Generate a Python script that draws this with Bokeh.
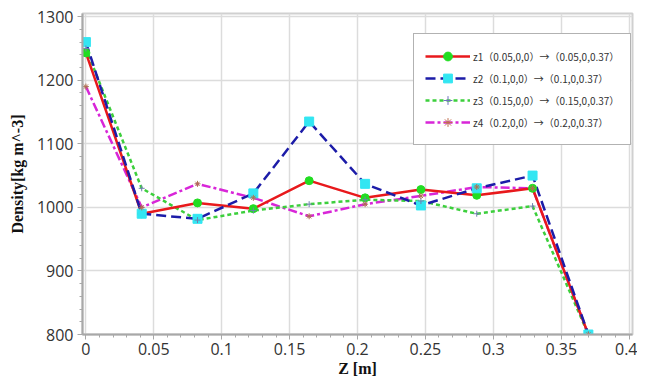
from bokeh.plotting import figure
from bokeh.models import (SingleIntervalTicker, Legend, LegendItem, ColumnDataSource, Range1d)
from bokeh.embed import file_html
from bokeh.resources import INLINE

# ---- data ----
z = [0.0, 0.0411, 0.0822, 0.1233, 0.1644, 0.2056, 0.2467, 0.2878, 0.3289, 0.37]
z1 = [1243, 990, 1007, 998, 1042, 1015, 1028, 1019, 1030, 800]
z2 = [1260, 990, 982, 1022, 1135, 1037, 1003, 1030, 1050, 800]
z3 = [1250, 1030, 980, 995, 1005, 1012, 1010, 990, 1002, 800]
z4 = [1190, 1000, 1037, 1015, 986, 1005, 1018, 1032, 1030, 800]
labels = ["z1（0.05,0,0）→（0.05,0,0.37）",
          "z2（0.1,0,0）→（0.1,0,0.37）",
          "z3（0.15,0,0）→（0.15,0,0.37）",
          "z4（0.2,0,0）→（0.2,0,0.37）"]
x_ticks = [0.0, 0.05, 0.1, 0.15, 0.2, 0.25, 0.3, 0.35, 0.4]
x_tick_labels = ["0", "0.05", "0.1", "0.15", "0.2", "0.25", "0.3", "0.35", "0.4"]

p = figure(width=637, height=382, output_backend="svg", toolbar_location=None,
           x_range=Range1d(-0.0025, 0.4025), y_range=Range1d(800, 1305),
           min_border_left=82, min_border_right=5, min_border_top=13, min_border_bottom=48)
p.background_fill_color = "white"
p.border_fill_color = "white"
p.outline_line_color = "#d0d0d0"
p.outline_line_width = 2

p.xaxis.ticker = SingleIntervalTicker(interval=0.05, num_minor_ticks=5)
p.yaxis.ticker = SingleIntervalTicker(interval=100, num_minor_ticks=5)
p.xaxis.major_label_overrides = {t: l for t, l in zip(x_ticks, x_tick_labels)}

for ax in (p.xaxis[0], p.yaxis[0]):
    ax.axis_line_color = "#a8a8a8"
    ax.axis_line_width = 2
    ax.major_tick_line_color = "#a8a8a8"
    ax.minor_tick_line_color = "#a8a8a8"
    ax.major_tick_in = 0
    ax.major_tick_out = 5
    ax.minor_tick_in = 0
    ax.minor_tick_out = 3
    ax.major_label_text_font = "Open Sans"
    ax.major_label_text_font_size = "16px"
    ax.major_label_text_color = "#333333"
    ax.axis_label_text_font = "Liberation Serif"
    ax.axis_label_text_font_style = "bold"
    ax.axis_label_text_font_size = "16px"
    ax.axis_label_text_color = "#111111"

p.xaxis.axis_label = "Z [m]"
p.yaxis.axis_label = "Density[kg m^-3]"
p.xaxis.axis_label_standoff = 2
p.yaxis.axis_label_standoff = 8
p.xaxis.major_label_standoff = 3
p.yaxis.major_label_standoff = 4

p.xgrid.grid_line_color = "#dcdcdc"
p.ygrid.grid_line_color = "#dcdcdc"
p.xgrid.grid_line_width = 1.5
p.ygrid.grid_line_width = 1.5

red = "#e8191c"
blue = "#1c1ca8"
green = "#3ccf3c"
magenta = "#d826d8"

src = ColumnDataSource(dict(z=z, z1=z1, z2=z2, z3=z3, z4=z4))
nan = float("nan")
dummy = ColumnDataSource(dict(z=[nan], v=[nan]))

l4 = p.line("z", "z4", source=src, color=magenta, line_width=2.5, line_dash="9 3 3 3")
l3 = p.line("z", "z3", source=src, color=green, line_width=2.5, line_dash="4 3")
l1 = p.line("z", "z1", source=src, color=red, line_width=2.5)
l2 = p.line("z", "z2", source=src, color=blue, line_width=2.5, line_dash="10 5")
p.scatter("z", "z1", source=src, marker="circle", size=8, fill_color="#22dd22", line_color="#22dd22")
p.scatter("z", "z2", source=src, marker="square", size=9, fill_color="#33e6f2", line_color="#33e6f2")
p.scatter("z", "z3", source=src, marker="cross", size=6, line_color="#7080b0", line_width=1)
p.scatter("z", "z4", source=src, marker="asterisk", size=6, line_color="#b07050", line_width=1)

m1 = p.scatter("z", "v", source=dummy, marker="circle", size=13, fill_color="#22dd22", line_color="#22dd22")
m2 = p.scatter("z", "v", source=dummy, marker="square", size=13, fill_color="#33e6f2", line_color="#33e6f2")
m3 = p.scatter("z", "v", source=dummy, marker="cross", size=12, line_color="#7070c0", line_width=1)
m4 = p.scatter("z", "v", source=dummy, marker="asterisk", size=12, line_color="#c07050", line_width=1)

legend = Legend(items=[LegendItem(label=labels[0], renderers=[l1, m1]),
                       LegendItem(label=labels[1], renderers=[l2, m2]),
                       LegendItem(label=labels[2], renderers=[l3, m3]),
                       LegendItem(label=labels[3], renderers=[l4, m4])],
                location=(331, 189))
legend.label_text_font = "Noto Sans CJK SC"
legend.label_text_font_size = "10px"
legend.label_text_color = "#333333"
legend.glyph_width = 45
legend.glyph_height = 22
legend.label_height = 18
legend.spacing = 0
legend.padding = 11
legend.margin = 0
legend.label_standoff = 3
legend.border_line_color = "#666666"
legend.border_line_width = 1.5
legend.background_fill_color = "white"
legend.background_fill_alpha = 1
p.add_layout(legend, "center")

open("out.html", "w").write(file_html(p, INLINE))
